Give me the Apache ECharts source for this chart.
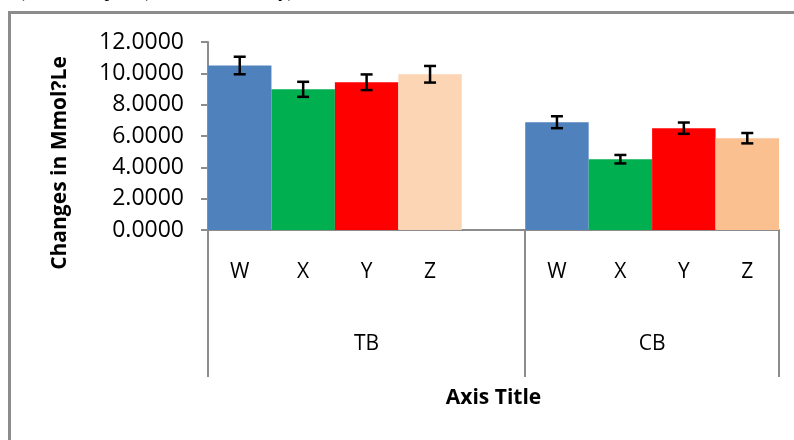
<!DOCTYPE html>
<html>
<head>
<meta charset="utf-8">
<script src="https://cdn.jsdelivr.net/npm/echarts@6/dist/echarts.min.js"></script>
<style>
html,body{margin:0;padding:0;background:#fff;}
#chart{width:794px;height:440px;}
</style>
</head>
<body>
<div id="chart"></div>
<script>
// ---- data ----
var groups = ['TB', 'CB'];
var subgroups = ['W', 'X', 'Y', 'Z'];
var valuesTB = [10.50, 8.98, 9.43, 9.94];
var valuesCB = [6.88, 4.52, 6.50, 5.86];
var errorsTB = [0.56, 0.48, 0.50, 0.53];
var errorsCB = [0.38, 0.27, 0.36, 0.33];
var yTicks = [0, 2, 4, 6, 8, 10, 12];
var colorsTB = ['#4F81BD', '#00B050', '#FF0000', '#FCD5B5'];
var colorsCB = ['#4F81BD', '#00B050', '#FF0000', '#FAC090'];

// ---- build 9 slots (TB W..Z, empty slot, CB W..Z) ----
var cats = [], labels = [], vals = [], errs = [], cols = [];
subgroups.forEach(function (s, i) { cats.push('TB-' + s); labels.push(s); vals.push(valuesTB[i]); errs.push(errorsTB[i]); cols.push(colorsTB[i]); });
cats.push('TB-gap'); labels.push(''); vals.push('-'); errs.push(null); cols.push('#fff');
subgroups.forEach(function (s, i) { cats.push('CB-' + s); labels.push(s); vals.push(valuesCB[i]); errs.push(errorsCB[i]); cols.push(colorsCB[i]); });

var groupSlots = [5, 4];
var groupCenters = {};
var acc = 0;
groups.forEach(function (g, i) { groupCenters[(acc + groupSlots[i] / 2).toFixed(1)] = g; acc += groupSlots[i]; });

var barData = vals.map(function (v, i) { return { value: v, itemStyle: { color: cols[i] } }; });
var errData = [];
vals.forEach(function (v, i) { if (errs[i] != null) errData.push([i, v, errs[i]]); });

var axisGray = '#8C8C8C';
var font = '"Open Sans", "Liberation Sans", sans-serif';

var chart = echarts.init(document.getElementById('chart'), null, { renderer: 'canvas' });
chart.setOption({
  animation: false,
  backgroundColor: '#fff',
  graphic: [
    { type: 'rect', shape: { x: 9.5, y: 12.5, width: 900, height: 600 }, style: { fill: 'none', stroke: '#8C8C8C', lineWidth: 3 }, silent: true },
    { type: 'text', left: 0, top: -17, style: { text: 'ate) and Group W (diet+exercise only) at weeks.', font: '19px "Liberation Serif", serif', fill: '#000' }, silent: true }
  ],
  grid: { left: 208, top: 42, width: 571, height: 188, containLabel: false },
  xAxis: [
    {
      type: 'category', data: cats, boundaryGap: true,
      axisLine: { show: true, lineStyle: { color: axisGray, width: 2 } },
      axisTick: { show: true, length: 147, interval: function (i) { return i === 0 || i === 5; }, lineStyle: { color: axisGray, width: 2 } },
      axisLabel: { interval: 0, margin: 32, color: '#000', fontSize: 21, fontFamily: font, formatter: function (v, i) { return labels[i]; } },
      name: 'Axis Title', nameLocation: 'middle', nameGap: 158,
      nameTextStyle: { color: '#000', fontSize: 21, fontWeight: 'bold', fontFamily: font },
      splitLine: { show: false }
    },
    {
      type: 'value', min: 0, max: cats.length, interval: 0.5, position: 'bottom',
      axisLine: { show: false }, axisTick: { show: false }, splitLine: { show: false },
      axisLabel: { margin: 104, color: '#000', fontSize: 21, fontFamily: font, showMinLabel: true, showMaxLabel: true,
        formatter: function (v) { return groupCenters[v.toFixed(1)] || ''; } }
    }
  ],
  yAxis: {
    type: 'value', min: yTicks[0], max: yTicks[yTicks.length - 1], interval: yTicks[1] - yTicks[0],
    axisLine: { show: true, lineStyle: { color: axisGray, width: 2 } },
    axisTick: { show: true, length: 7, lineStyle: { color: axisGray, width: 2 } },
    axisLabel: { margin: 24, color: '#000', fontSize: 23, fontFamily: font, formatter: function (v) { return v.toFixed(4); } },
    splitLine: { show: false },
    name: 'Changes in Mmol?Le', nameLocation: 'middle', nameGap: 137, nameRotate: 90,
    nameTextStyle: { color: '#000', fontSize: 21, fontWeight: 'bold', fontFamily: font, padding: [0, 54, 0, 0] }
  },
  series: [
    { type: 'bar', xAxisIndex: 0, data: barData, barWidth: '100%', barCategoryGap: '0%' },
    {
      type: 'custom', xAxisIndex: 0, data: errData, z: 5,
      renderItem: function (params, api) {
        var x = api.value(0), v = api.value(1), e = api.value(2);
        var hi = api.coord([x, v + e]), lo = api.coord([x, v - e]);
        var w = 6;
        var st = { stroke: '#000', lineWidth: 2.5 };
        return { type: 'group', children: [
          { type: 'line', shape: { x1: hi[0], y1: hi[1], x2: lo[0], y2: lo[1] }, style: st },
          { type: 'line', shape: { x1: hi[0] - w, y1: hi[1], x2: hi[0] + w, y2: hi[1] }, style: st },
          { type: 'line', shape: { x1: lo[0] - w, y1: lo[1], x2: lo[0] + w, y2: lo[1] }, style: st }
        ] };
      }
    }
  ]
});
</script>
</body>
</html>
